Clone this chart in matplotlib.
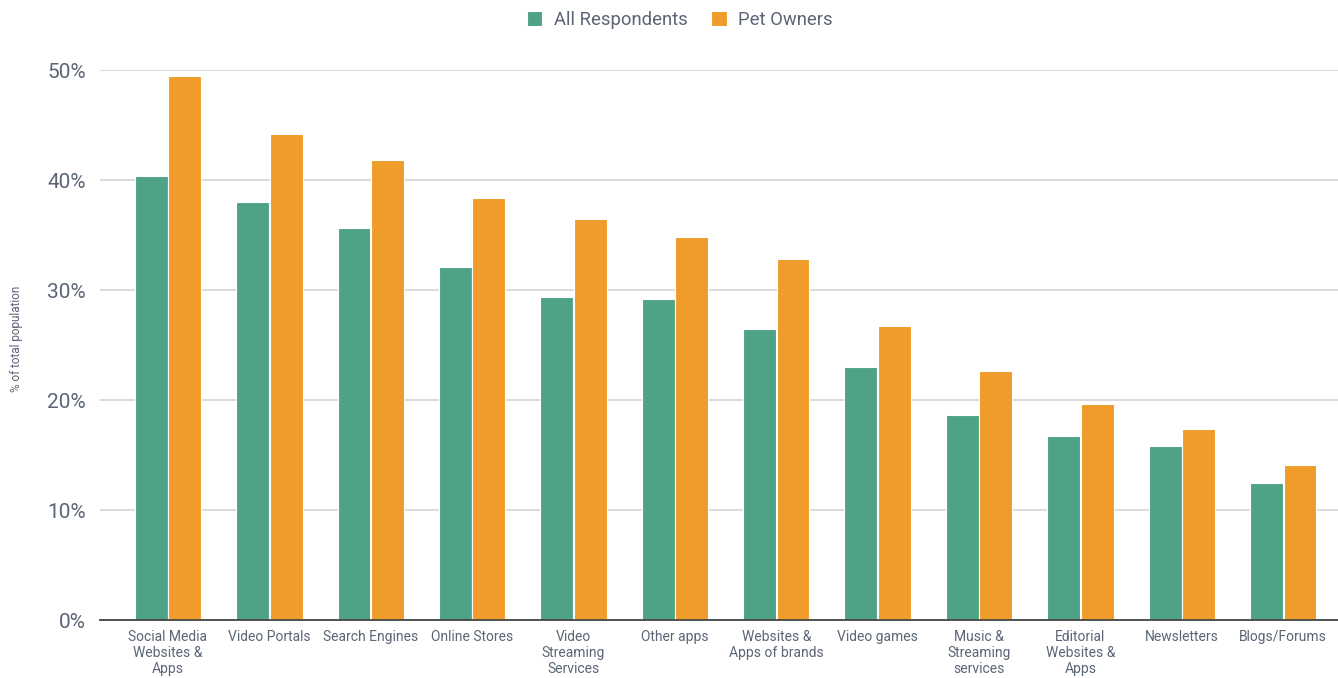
import matplotlib
matplotlib.use("Agg")
import matplotlib.pyplot as plt
import numpy as np

plt.rcParams['font.family'] = ['Roboto', 'DejaVu Sans']

categories = [
    "Social Media\nWebsites &\nApps", "Video Portals", "Search Engines", "Online Stores",
    "Video\nStreaming\nServices", "Other apps", "Websites &\nApps of brands", "Video games",
    "Music &\nStreaming\nservices", "Editorial\nWebsites &\nApps", "Newsletters", "Blogs/Forums",
]
all_respondents = [40.4, 38.0, 35.6, 32.1, 29.4, 29.2, 26.5, 23.0, 18.6, 16.7, 15.8, 12.5]
pet_owners = [49.5, 44.2, 41.8, 38.4, 36.5, 34.8, 32.8, 26.7, 22.6, 19.6, 17.4, 14.1]
yticks = [0, 10, 20, 30, 40, 50]

GREEN = "#4ea287"
ORANGE = "#f09c2a"
TEXT = "#5b6577"

fig = plt.figure(figsize=(13.38, 6.78), dpi=100)
ax = fig.add_axes([100 / 1338, 58 / 678, 1238 / 1338, 550 / 678])

x = np.arange(len(categories))
w = 0.325
ax.bar(x - 0.165, all_respondents, width=w, color=GREEN, edgecolor="white",
       linewidth=0.8, label="All Respondents", zorder=3)
ax.bar(x + 0.165, pet_owners, width=w, color=ORANGE, edgecolor="white",
       linewidth=0.8, label="Pet Owners", zorder=3)

ax.set_xlim(-0.67, 11.54)
ax.set_ylim(0, 50)
ax.set_yticks(yticks)
ax.set_yticklabels([f"{v}%" for v in yticks], fontsize=15, color=TEXT)
ax.set_xticks(x)
ax.set_xticklabels(categories, fontsize=10, color=TEXT, linespacing=1.2)
ax.tick_params(axis="both", length=0)
ax.tick_params(axis="y", pad=10)
ax.tick_params(axis="x", pad=7)

ax.grid(axis="y", color="#d4d4d4", linewidth=1.2, zorder=0)
for s in ["top", "right", "left"]:
    ax.spines[s].set_visible(False)
ax.spines["bottom"].set_color("#444444")
ax.spines["bottom"].set_linewidth(1.3)
ax.spines["bottom"].set_zorder(4)

fig.text(17 / 1338, 0.5, "% of total population", rotation=90, fontsize=8.5,
         color=TEXT, ha="center", va="center")

leg = fig.legend(loc="upper center", bbox_to_anchor=(0.508, 1.008), ncol=2, frameon=False,
                 fontsize=13.3, handlelength=0.85, handleheight=0.85, handletextpad=0.6,
                 columnspacing=1.3)
for t in leg.get_texts():
    t.set_color(TEXT)

fig.savefig("out.png", dpi=100)
